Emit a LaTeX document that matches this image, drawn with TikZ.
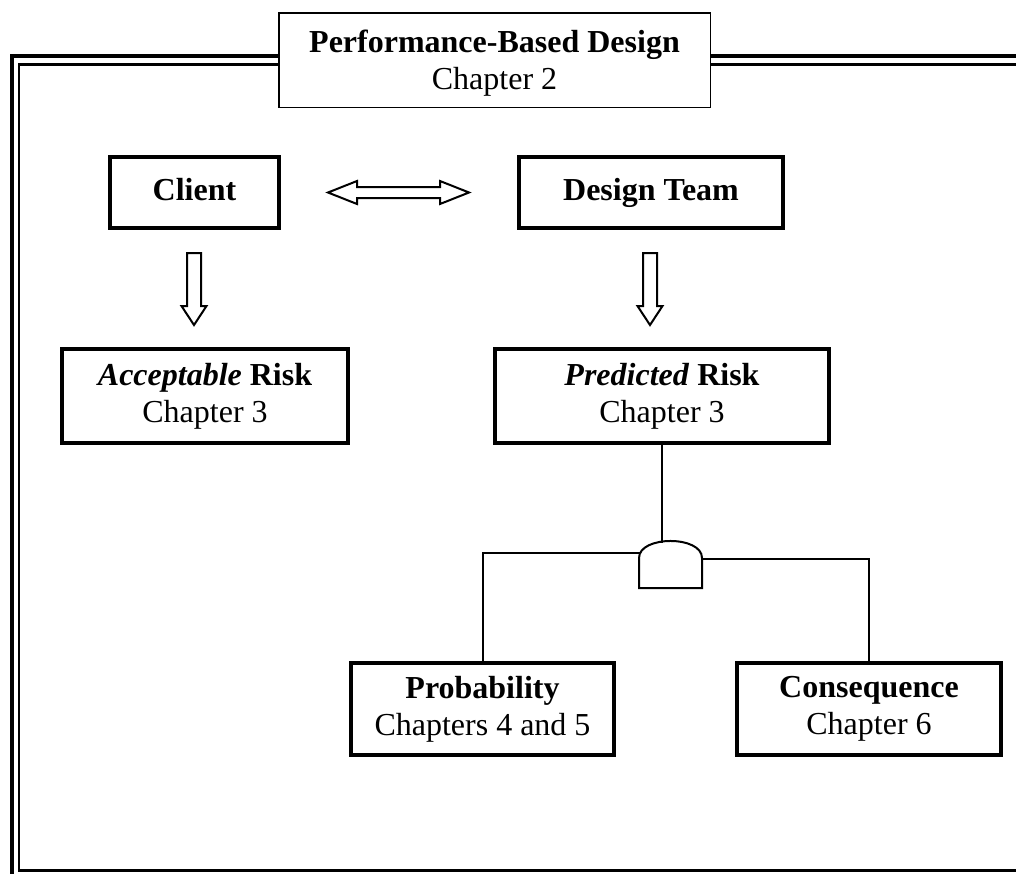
\documentclass[tikz,border=0pt]{standalone}
\usepackage{fontspec}
\setmainfont{Liberation Serif}
\usetikzlibrary{calc}
\newcommand\fs{\fontsize{32}{37}\selectfont}
\tikzset{
  box/.style={draw, line width=4pt, inner sep=0pt, align=center, font=\fs, fill=white},
  oneline/.style={text height=22pt, text depth=7pt},
  titlebox/.style={draw, line width=1.5pt, inner sep=0pt, fill=white},
  conn/.style={draw, line width=2pt},
  harrow/.style={draw, line width=2pt, fill=white, line join=miter},
  gate/.style={draw, line width=2pt, fill=white},
}
\newcommand\hollowvarrow[2]{%
  \draw[harrow] ($(#1)+(-7,0)$) -- ($(#2)+(-7,-19)$) -- ($(#2)+(-12.5,-19)$) -- (#2)
    -- ($(#2)+(12.5,-19)$) -- ($(#2)+(7,-19)$) -- ($(#1)+(7,0)$) -- cycle;}
\newcommand\hollowharrow[2]{%
  \draw[harrow] (#1) -- ($(#1)+(29,-11.5)$) -- ($(#1)+(29,-5.5)$) -- ($(#2)+(-29,-5.5)$)
    -- ($(#2)+(-29,-11.5)$) -- (#2) -- ($(#2)+(-29,11.5)$) -- ($(#2)+(-29,5.5)$)
    -- ($(#1)+(29,5.5)$) -- ($(#1)+(29,11.5)$) -- cycle;}
\begin{document}
\begin{tikzpicture}[x=1pt,y=-1pt]
\useasboundingbox (0,0) rectangle (1016,873);
\begin{scope}
  \clip (0,0) rectangle (1016,873);
  \draw[line width=3.8pt] (12,56) rectangle (1035,885);
  \draw[line width=2.2pt] (19,64.5) rectangle (1022,870.5);
\end{scope}
\node[titlebox, minimum width=431.5, minimum height=94.5] (title) at (494.5,60) {};
\node[font=\fs, align=center, inner sep=0pt] (titletext) at ($(title.center)+(0,3.5)$)
  {\textbf{Performance-Based Design}\\Chapter 2};
\node[box, oneline, minimum width=169, minimum height=71] (client) at (194.5,192.5) {\textbf{Client}};
\node[box, oneline, minimum width=264, minimum height=71] (design) at (651,192.5) {\textbf{Design Team}};
\node[box, minimum width=286, minimum height=94] (accept) at (205,396)
  {\textbf{\textit{Acceptable} Risk}\\Chapter 3};
\node[box, minimum width=334, minimum height=94] (pred) at (662,396)
  {\textbf{\textit{Predicted} Risk}\\Chapter 3};
\node[box, minimum width=263, minimum height=92] (prob) at (482.5,709)
  {\textbf{Probability}\\Chapters 4 and 5};
\node[box, minimum width=264, minimum height=92] (cons) at (869,709)
  {\textbf{Consequence}\\Chapter 6};
% hollow arrows
\coordinate (lt) at ($(client.east)+(47,0)$);
\coordinate (rt) at ($(design.west)+(-48,0)$);
\hollowharrow{lt}{rt}
\coordinate (a1s) at (194,253);
\coordinate (a1e) at (194,325);
\hollowvarrow{a1s}{a1e}
\coordinate (a2s) at (650,253);
\coordinate (a2e) at (650,325);
\hollowvarrow{a2s}{a2e}
% AND gate
\draw[gate] (639,588) -- (639,558) .. controls (639,535.3) and (702,535.3) .. (702,558) -- (702,588) -- cycle;
\coordinate (gT) at (662,542.5);
\coordinate (gL) at (640,553);
\coordinate (gR) at (702,559);
\draw[conn] (pred.south) -- (gT);
\draw[conn] (gL) -| (prob.north);
\draw[conn] (gR) -| (cons.north);
\end{tikzpicture}
\end{document}
